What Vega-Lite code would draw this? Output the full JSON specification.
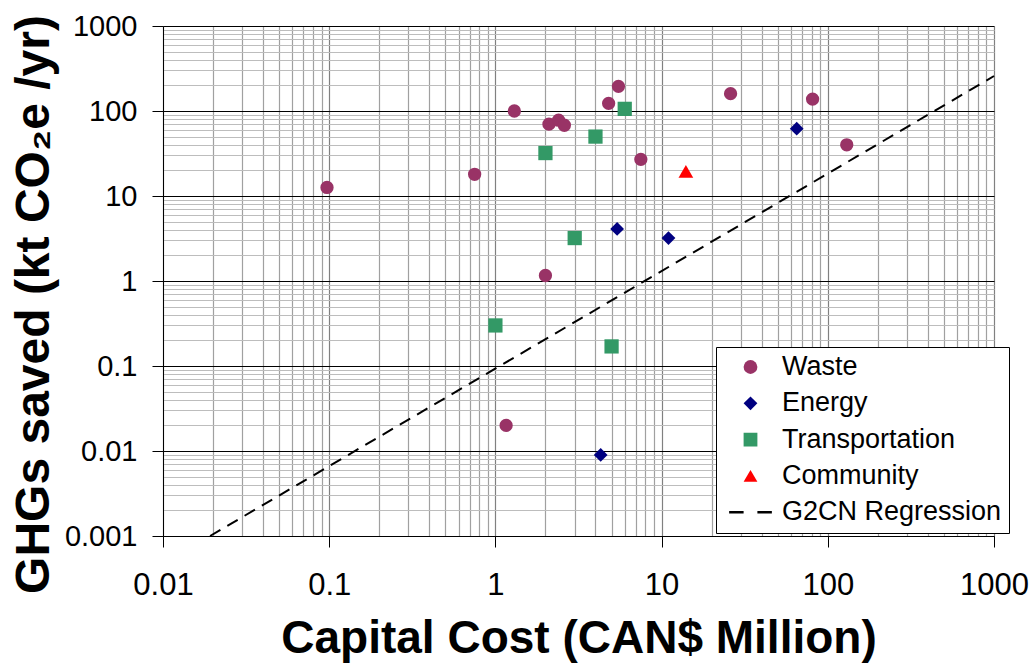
{
  "$schema": "https://vega.github.io/schema/vega-lite/v6.json",
  "width": 831,
  "height": 510,
  "autosize": "none",
  "padding": {"left": 163, "top": 26, "right": 40, "bottom": 128},
  "background": "white",
  "config": {
    "view": {"stroke": null},
    "font": "Liberation Sans"
  },
  "datasets": {
    "pts": [
      {"cost": 0.097, "ghg": 12.6, "cat": "Waste"},
      {"cost": 0.75, "ghg": 18, "cat": "Waste"},
      {"cost": 1.3, "ghg": 100, "cat": "Waste"},
      {"cost": 2.1, "ghg": 70, "cat": "Waste"},
      {"cost": 2.4, "ghg": 78, "cat": "Waste"},
      {"cost": 2.6, "ghg": 68, "cat": "Waste"},
      {"cost": 2.0, "ghg": 1.16, "cat": "Waste"},
      {"cost": 4.8, "ghg": 123, "cat": "Waste"},
      {"cost": 5.5, "ghg": 195, "cat": "Waste"},
      {"cost": 7.5, "ghg": 27, "cat": "Waste"},
      {"cost": 1.16, "ghg": 0.02, "cat": "Waste"},
      {"cost": 26, "ghg": 160, "cat": "Waste"},
      {"cost": 81, "ghg": 138, "cat": "Waste"},
      {"cost": 130, "ghg": 40, "cat": "Waste"},
      {"cost": 5.4, "ghg": 4.1, "cat": "Energy"},
      {"cost": 11, "ghg": 3.2, "cat": "Energy"},
      {"cost": 4.3, "ghg": 0.009, "cat": "Energy"},
      {"cost": 65, "ghg": 62, "cat": "Energy"},
      {"cost": 2.0, "ghg": 32, "cat": "Transportation"},
      {"cost": 4.0, "ghg": 50, "cat": "Transportation"},
      {"cost": 6.0, "ghg": 106, "cat": "Transportation"},
      {"cost": 3.0, "ghg": 3.2, "cat": "Transportation"},
      {"cost": 1.0, "ghg": 0.3, "cat": "Transportation"},
      {"cost": 5.0, "ghg": 0.17, "cat": "Transportation"},
      {"cost": 14, "ghg": 19.5, "cat": "Community"}
    ],
    "reg": [
      {"cost": 0.0192, "ghg": 0.001},
      {"cost": 1000, "ghg": 258}
    ]
  },
  "encoding": {
    "x": {
      "field": "cost",
      "type": "quantitative",
      "scale": {"type": "log", "domain": [0.01, 1000], "nice": false},
      "axis": {
        "title": "Capital Cost (CAN$ Million)",
        "titleFont": "Liberation Sans",
        "titleFontSize": 46,
        "titleFontWeight": "bold",
        "titleColor": "black",
        "titleBaseline": "alphabetic",
        "titleY": 116,
        "values": [0.01,0.02,0.03,0.04,0.05,0.06,0.07,0.08,0.09,0.1,0.2,0.3,0.4,0.5,0.6,0.7,0.8,0.9,1,2,3,4,5,6,7,8,9,10,20,30,40,50,60,70,80,90,100,200,300,400,500,600,700,800,900,1000],
        "labelExpr": "(datum.value == 0.01 || datum.value == 0.1 || datum.value == 1 || datum.value == 10 || datum.value == 100 || datum.value == 1000) ? format(datum.value, '~g') : ''",
        "labelFont": "Liberation Sans",
        "labelFontSize": 31,
        "labelColor": "black",
        "labelPadding": 23,
        "labelFlush": false,
        "labelOverlap": false,
        "labelBound": false,
        "domainColor": "black",
        "domainWidth": 1,
        "tickColor": "black",
        "tickSize": 11,
        "tickOpacity": {"condition": {"test": "datum.value == 0.01 || datum.value == 0.1 || datum.value == 1 || datum.value == 10 || datum.value == 100 || datum.value == 1000", "value": 1}, "value": 0},
        "grid": true,
        "gridColor": {"condition": {"test": "datum.value == 0.01 || datum.value == 0.1 || datum.value == 1 || datum.value == 10 || datum.value == 100 || datum.value == 1000", "value": "#808080"}, "value": "#a0a0a0"},
        "gridWidth": 1.2,
        "gridOpacity": 1
      }
    },
    "y": {
      "field": "ghg",
      "type": "quantitative",
      "scale": {"type": "log", "domain": [0.001, 1000], "nice": false},
      "axis": {
        "title": "GHGs saved (kt CO₂e /yr)",
        "titleFont": "Liberation Sans",
        "titleFontSize": 48,
        "titleFontWeight": "bold",
        "titleColor": "black",
        "titleAngle": -90,
        "titleBaseline": "alphabetic",
        "titleAlign": "center",
        "titleX": -115,
        "titleY": 278,
        "values": [0.001,0.002,0.003,0.004,0.005,0.006,0.007,0.008,0.009,0.01,0.02,0.03,0.04,0.05,0.06,0.07,0.08,0.09,0.1,0.2,0.3,0.4,0.5,0.6,0.7,0.8,0.9,1,2,3,4,5,6,7,8,9,10,20,30,40,50,60,70,80,90,100,200,300,400,500,600,700,800,900,1000],
        "labelExpr": "(datum.value == 0.001 || datum.value == 0.01 || datum.value == 0.1 || datum.value == 1 || datum.value == 10 || datum.value == 100 || datum.value == 1000) ? format(datum.value, '~g') : ''",
        "labelFont": "Liberation Sans",
        "labelFontSize": 29,
        "labelColor": "black",
        "labelPadding": 15,
        "labelOverlap": false,
        "labelBound": false,
        "labelFlush": false,
        "domainColor": "black",
        "domainWidth": 1,
        "tickColor": "black",
        "tickSize": 11,
        "tickOpacity": {"condition": {"test": "datum.value == 0.001 || datum.value == 0.01 || datum.value == 0.1 || datum.value == 1 || datum.value == 10 || datum.value == 100 || datum.value == 1000", "value": 1}, "value": 0},
        "grid": true,
        "gridColor": {"condition": {"test": "datum.value == 0.001 || datum.value == 0.01 || datum.value == 0.1 || datum.value == 1 || datum.value == 10 || datum.value == 100 || datum.value == 1000", "value": "#000000"}, "value": "#bdbdbd"},
        "gridWidth": 1.2,
        "gridOpacity": 1
      }
    }
  },
  "layer": [
    {
      "data": {"name": "pts"},
      "mark": {"type": "point", "filled": true, "opacity": 1},
      "encoding": {
        "color": {
          "field": "cat",
          "type": "nominal",
          "scale": {
            "domain": ["Waste", "Energy", "Transportation", "Community", "G2CN Regression"],
            "range": ["#993366", "#000080", "#339966", "#ff0000", "#000000"]
          },
          "legend": {
            "title": null,
            "orient": "none",
            "legendX": 553,
            "legendY": 321,
            "direction": "vertical",
            "labelFont": "Liberation Sans",
            "labelFontSize": 27,
            "labelColor": "black",
            "labelLimit": 400,
            "symbolSize": 190,
            "symbolOpacity": 1,
            "clipHeight": 26,
            "rowPadding": 9.3,
            "padding": 7,
            "symbolOffset": 14,
            "labelOffset": 18,
            "strokeColor": "black",
            "fillColor": "white",
            "cornerRadius": 0,
            "encode": {
              "symbols": {
                "update": {
                  "stroke": {"signal": "datum.value === 'G2CN Regression' ? '#000000' : 'transparent'"},
                  "strokeWidth": {"value": 2.5}
                }
              }
            }
          }
        },
        "shape": {
          "field": "cat",
          "type": "nominal",
          "scale": {
            "domain": ["Waste", "Energy", "Transportation", "Community", "G2CN Regression"],
            "range": ["circle", "diamond", "square", "triangle-up", "M-3.1,0H-1M1,0H3.1"]
          }
        },
        "size": {
          "field": "cat",
          "type": "nominal",
          "scale": {
            "domain": ["Waste", "Energy", "Transportation", "Community"],
            "range": [177, 216, 177, 200]
          },
          "legend": null
        }
      }
    },
    {
      "data": {"name": "reg"},
      "mark": {"type": "line", "color": "black", "strokeWidth": 2, "strokeDash": [12, 8]},
      "encoding": {}
    }
  ]
}
